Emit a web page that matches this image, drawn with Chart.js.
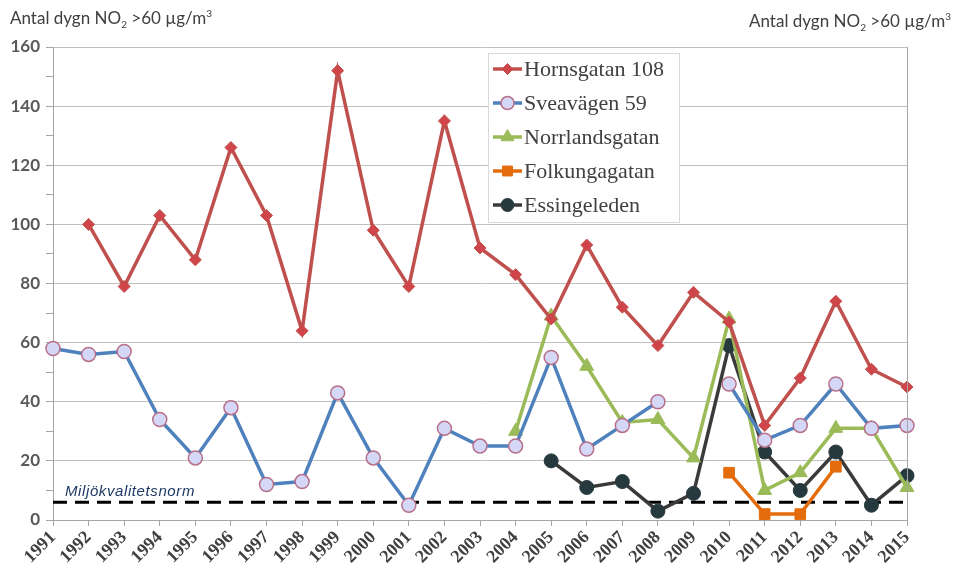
<!DOCTYPE html>
<html>
<head>
<meta charset="utf-8">
<script src="https://cdn.jsdelivr.net/npm/chart.js@4.4.1/dist/chart.umd.min.js"></script>
<style>
  html, body { margin: 0; padding: 0; background: #fff; }
  #wrap { position: relative; width: 953px; height: 571px; }
  .ttl { position: absolute; font-family: Lato, "Open Sans", sans-serif; font-size: 17px; color: #404040; white-space: nowrap; }
  .ttl sub, .ttl sup { font-size: 10px; }
</style>
</head>
<body>
<div id="wrap">
  <div class="ttl" style="left:10px; top:7px;">Antal dygn NO<sub>2</sub> &gt;60 µg/m<sup>3</sup></div>
  <div class="ttl" style="left:749px; top:10px;">Antal dygn NO<sub>2</sub> &gt;60 µg/m<sup>3</sup></div>
  <canvas id="chart" width="953" height="571"></canvas>
</div>
<script>
const years = ['1991', '1992', '1993', '1994', '1995', '1996', '1997', '1998', '1999', '2000', '2001', '2002', '2003',
  '2004', '2005', '2006', '2007', '2008', '2009', '2010', '2011', '2012', '2013', '2014', '2015'];

const hornsgatan = [null, 100, 79, 103, 88, 126, 103, 64, 152, 98, 79, 135, 92, 83, 68, 93, 72, 59, 77, 67, 32, 48, 74, 51, 45];
const sveavagen = [58, 56, 57, 34, 21, 38, 12, 13, 43, 21, 5, 31, 25, 25, 55, 24, 32, 40, null, 46, 27, 32, 46, 31, 32];
const norrlandsgatan = [null, null, null, null, null, null, null, null, null, null, null, null, null, 30, 69, 52, 33, 34, 21, 68, 10, 16, 31, 31, 11];
const folkungagatan = [null, null, null, null, null, null, null, null, null, null, null, null, null, null, null, null, null, null, null, 16, 2, 2, 18, null, null];
const essingeleden = [null, null, null, null, null, null, null, null, null, null, null, null, null, null, 20, 11, 13, 3, 9, 59, 23, 10, 23, 5, 15];

const normValue = 6;
const normLabel = 'Miljökvalitetsnorm';
const yTicks = [0, 20, 40, 60, 80, 100, 120, 140, 160];

// legend + norm text + right border
const extras = {
  id: 'extras',
  afterDatasetsDraw(chart) {
    const { ctx, chartArea } = chart;
    const y = chart.scales.y;
    ctx.save();
    ctx.strokeStyle = '#a6a6a6';
    ctx.lineWidth = 1;
    ctx.beginPath();
    ctx.moveTo(chartArea.right + 0.5, chartArea.top);
    ctx.lineTo(chartArea.right + 0.5, chartArea.bottom + 6);
    ctx.stroke();

    ctx.fillStyle = '#1f3864';
    ctx.font = 'italic 15px "Liberation Sans", Arial, sans-serif';
    ctx.textBaseline = 'alphabetic';
    if (ctx.letterSpacing !== undefined) ctx.letterSpacing = '0.6px';
    ctx.fillText(normLabel, chartArea.left + 12, y.getPixelForValue(normValue) - 6);
    if (ctx.letterSpacing !== undefined) ctx.letterSpacing = '0px';

    // legend box
    const bx = 488, by = 53, bw = 191, bh = 169;
    ctx.fillStyle = '#fff';
    ctx.fillRect(bx, by, bw, bh);
    ctx.strokeStyle = '#d9d9d9';
    ctx.lineWidth = 1;
    ctx.strokeRect(bx + 0.5, by + 0.5, bw, bh);
    const items = chart.data.datasets.filter(d => !d.isNorm);
    items.forEach((d, i) => {
      const cy = by + 16 + i * 34;
      ctx.strokeStyle = d.borderColor;
      ctx.lineWidth = 3.5;
      ctx.beginPath();
      ctx.moveTo(bx + 5, cy);
      ctx.lineTo(bx + 34, cy);
      ctx.stroke();
      ctx.fillStyle = d.pointBackgroundColor;
      ctx.strokeStyle = d.pointBorderColor;
      ctx.lineWidth = d.pointBorderWidth || 1;
      Chart.helpers.drawPoint(ctx, {
        pointStyle: d.pointStyle,
        rotation: 0,
        borderWidth: d.pointBorderWidth || 1,
        radius: d.pointRadius - 0.5
      }, bx + 19.5, cy);
      ctx.fillStyle = '#404040';
      ctx.font = '22px "Liberation Serif", "Times New Roman", serif';
      ctx.textBaseline = 'middle';
      ctx.fillText(d.label, bx + 36, cy + 1);
    });
    ctx.restore();
  }
};

function line(label, data, color, style, radius, bg, border, bw) {
  return {
    label, data,
    borderColor: color,
    borderWidth: 3.5,
    pointStyle: style,
    pointRadius: radius,
    pointBackgroundColor: bg,
    pointBorderColor: border,
    pointBorderWidth: bw,
    spanGaps: false,
    tension: 0
  };
}

new Chart(document.getElementById('chart'), {
  type: 'line',
  data: {
    labels: years,
    datasets: [
      line('Hornsgatan 108', hornsgatan, '#c0504d', 'rectRot', 6, '#d0454a', '#c0504d', 1),
      line('Sveavägen 59', sveavagen, '#4f81bd', 'circle', 7, '#d4d8f6', '#b8708a', 1.5),
      line('Norrlandsgatan', norrlandsgatan, '#9bbb59', 'triangle', 8, '#9bbb59', '#9bbb59', 1),
      line('Folkungagatan', folkungagatan, '#e46c0a', 'rect', 7.5, '#e46c0a', '#e46c0a', 1),
      line('Essingeleden', essingeleden, '#3a3a3a', 'circle', 7, '#26393f', '#26393f', 1),
      {
        label: normLabel,
        isNorm: true,
        data: years.map(() => normValue),
        borderColor: '#000',
        borderWidth: 3,
        borderDash: [14, 8],
        pointRadius: 0,
        order: 10
      }
    ]
  },
  options: {
    responsive: false,
    animation: false,
    layout: { padding: { top: 47, right: 46, left: 0, bottom: 0 } },
    plugins: {
      legend: { display: false },
      tooltip: { enabled: false }
    },
    scales: {
      x: {
        offset: false,
        grid: { drawOnChartArea: false, tickLength: 6, tickColor: '#a6a6a6' },
        border: { color: '#a6a6a6', width: 1 },
        ticks: {
          autoSkip: false,
          maxRotation: 45,
          minRotation: 45,
          color: '#404040',
          padding: 1,
          font: { family: '"Liberation Serif", "Times New Roman", serif', size: 18, weight: 'bold' }
        },
        afterFit(scale) {
          scale.height = 51;
          scale.paddingLeft = 0;
          scale.paddingRight = 0;
        }
      },
      y: {
        min: 0,
        max: 160,
        ticks: {
          stepSize: 10,
          color: '#595959',
          padding: 6,
          font: { family: 'Lato, "Open Sans", sans-serif', size: 17, weight: 'bold' },
          callback: (v) => yTicks.includes(v) ? String(v) : ''
        },
        grid: {
          color: (c) => (c.tick && c.tick.value % 20 === 0) ? '#c0c0c0' : 'rgba(0,0,0,0)',
          tickColor: '#a6a6a6',
          tickLength: 7
        },
        border: { color: '#a6a6a6', width: 1 },
        afterFit(scale) {
          scale.width = 53;
        }
      }
    }
  },
  plugins: [extras]
});
</script>
</body>
</html>
